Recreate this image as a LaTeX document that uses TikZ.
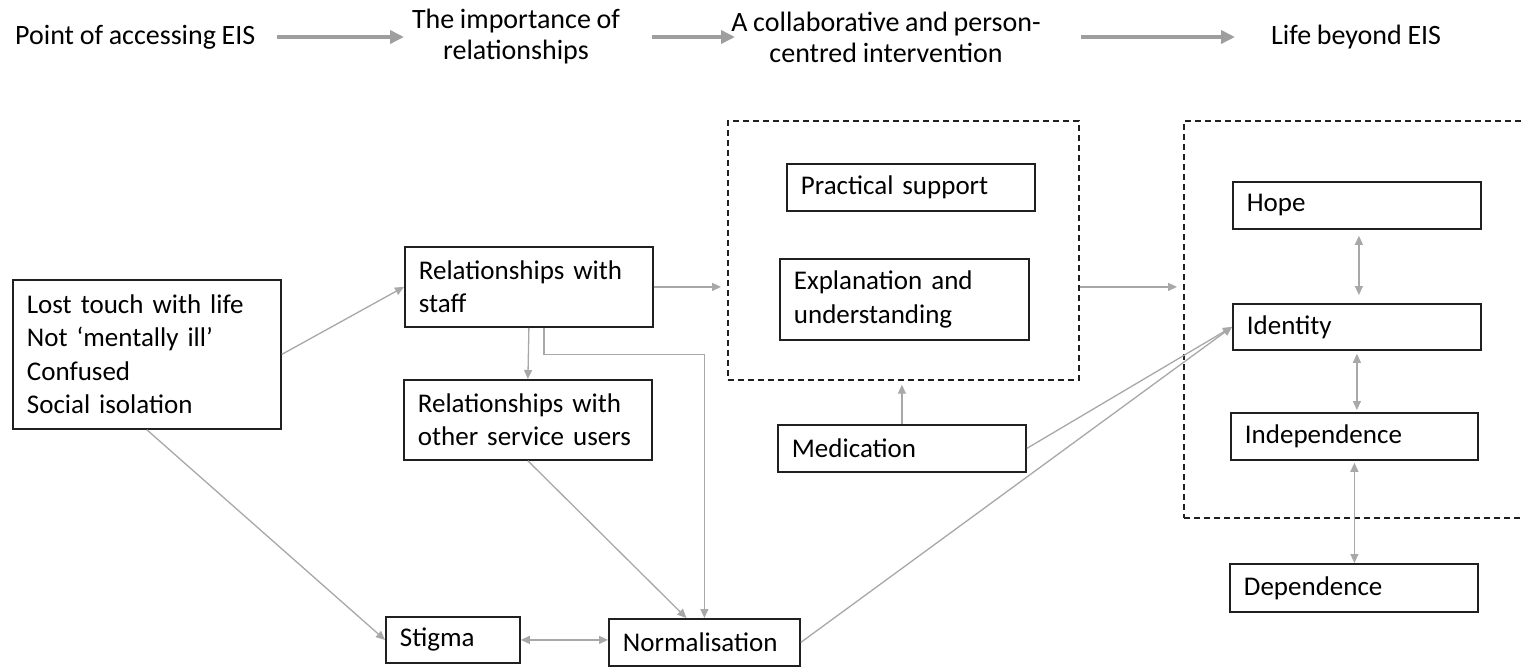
\documentclass[tikz,border=0pt]{standalone}
\usepackage{fontspec}
\setmainfont{Carlito}[WordSpace=0.9]
\usetikzlibrary{arrows.meta,calc}
\definecolor{conn}{HTML}{A8A8A8}
\definecolor{topar}{HTML}{9E9E9E}
\definecolor{edge}{HTML}{202020}
\begin{document}
\begin{tikzpicture}[x=1pt,y=-1pt,
  every node/.style={font=\fontsize{27}{33.5}\selectfont},
  bx/.style={draw=edge, line width=1.8pt, anchor=north west, inner xsep=14pt, inner ysep=0pt, align=left},
  dbox/.style={draw=edge, line width=1.7pt, dash pattern=on 6pt off 4pt, anchor=north west, inner sep=0pt},
  conn/.style={draw=conn, line width=1.3pt, -{Triangle[length=9pt,width=8pt]}},
  dconn/.style={draw=conn, line width=1.3pt, {Triangle[length=9pt,width=8pt]}-{Triangle[length=9pt,width=8pt]}},
  toparrow/.style={draw=topar, line width=3.8pt, -{Triangle[length=14pt,width=13pt]}},
  toptext/.style={inner sep=0pt, align=center, font=\fontsize{28}{31}\selectfont}
]
\useasboundingbox (0,0) rectangle (1522,667);
\fill[white] (0,0) rectangle (1522,667);

% top row
\node[toptext, anchor=west] (t1) at (15,37) {Point of accessing EIS};
\node[toptext] (t2) at (516,37) {The importance of\\relationships};
\node[toptext] (t3) at (886,37) {A collaborative and person-\\centred intervention};
\node[toptext, anchor=west] (t4) at (1271,37) {Life beyond EIS};
\draw[toparrow] (t1.east -| 277,0) -- (t1.east -| 404,0);
\draw[toparrow] (t1.east -| 652,0) -- (t1.east -| 735,0);
\draw[toparrow] (t1.east -| 1081,0) -- (t1.east -| 1235,0);

% dashed groups
\node[dbox, minimum width=351pt, minimum height=259pt] (d1) at (727,120) {};
\node[dbox, minimum width=360pt, minimum height=397pt] (d2) at (1183,120) {};

% boxes
\node[bx, text width=240pt, minimum height=149pt] (lost) at (12,279) {\mbox{Lost touch with life}\\\mbox{Not ‘mentally ill’}\\Confused\\\mbox{Social isolation}};
\node[bx, text width=220pt, minimum height=80pt] (staff) at (404,246) {\mbox{Relationships with}\\staff};
\node[bx, text width=220pt, minimum height=80pt] (other) at (403,379) {\mbox{Relationships with}\\\mbox{other service users}};
\node[bx, text width=106pt, minimum height=46pt] (stigma) at (385,616) {Stigma};
\node[bx, text width=163pt, minimum height=47pt] (norm) at (608,618) {Normalisation};
\node[bx, text width=220pt, minimum height=47pt] (prac) at (786,163) {\mbox{Practical support}};
\node[bx, text width=221pt, minimum height=81pt] (expl) at (779,258) {\mbox{Explanation and}\\understanding};
\node[bx, text width=220pt, minimum height=47pt] (med) at (777,424) {Medication};
\node[bx, text width=220pt, minimum height=47pt] (hope) at (1232,181) {Hope};
\node[bx, text width=220pt, minimum height=46pt] (iden) at (1232,303) {Identity};
\node[bx, text width=219pt, minimum height=47pt] (indep) at (1230,412) {Independence};
\node[bx, text width=220pt, minimum height=48pt] (dep) at (1229,563) {Dependence};

% connectors
\draw[conn] (lost.east) -- (staff.west);
\draw[conn] (lost.south) -- (stigma.west);
\draw[conn, shorten >=6pt] (staff.east) -- (staff.east -| d1.west);
\draw[conn] (staff.south) -- (other.north);
\draw[conn] ($(staff.south)+(15,0)$) -- ++(0,27) -| (norm.north);
\draw[conn] (other.south) -- ($(norm.north)+(-18,0)$);
\draw[dconn] (stigma.east) -- (stigma.east -| norm.west);
\draw[conn, shorten >=4pt] (med.north) -- (med.north |- d1.south);
\draw[conn] (med.east) -- (iden.west);
\draw[conn] (norm.east) -- (iden.west);
\draw[conn, shorten >=6pt] (staff.east -| d1.east) -- (staff.east -| d2.west);
\draw[dconn, shorten <=6pt, shorten >=8pt] ($(hope.south)+(2,0)$) -- ($(iden.north)+(2,0)$);
\draw[dconn, shorten <=3pt, shorten >=2pt] (iden.south) -- (iden.south |- indep.north);
\draw[dconn, shorten <=2pt] (indep.south) -- (indep.south |- dep.north);
\end{tikzpicture}
\end{document}
